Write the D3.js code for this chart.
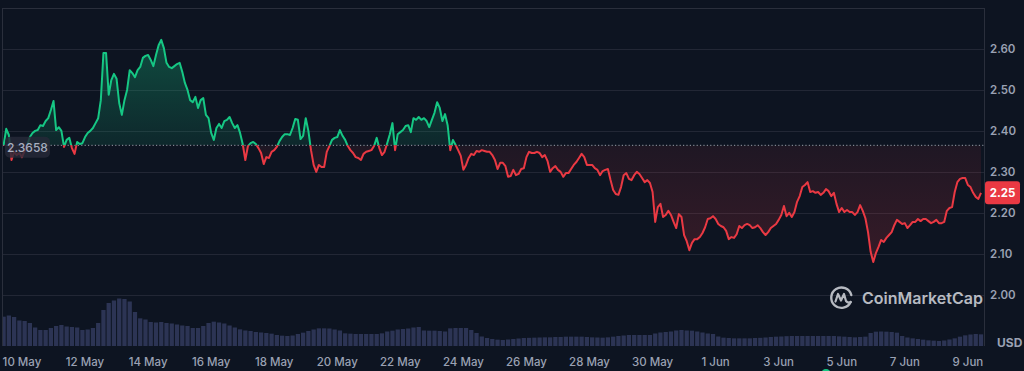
<!DOCTYPE html>
<html><head><meta charset="utf-8">
<script src="https://cdn.jsdelivr.net/npm/d3@7"></script>
<style>html,body{margin:0;padding:0;background:#0d1421;overflow:hidden}</style>
</head><body><svg id="chart" width="1024" height="371"></svg>
<script>
// ---- data ----
const startUTC = "2025-05-09T10:00:00Z";
const priceStepHours = 2;
const prices = [
2.366,2.406,2.391,2.330,2.350,2.342,2.347,2.337,2.352,2.367,
2.386,2.396,2.401,2.403,2.415,2.413,2.425,2.432,2.452,2.474,
2.403,2.410,2.401,2.362,2.379,2.384,2.359,2.345,2.374,2.369,
2.371,2.386,2.396,2.401,2.408,2.420,2.432,2.476,2.591,2.591,
2.489,2.525,2.540,2.528,2.469,2.440,2.476,2.501,2.549,2.542,
2.532,2.549,2.557,2.579,2.584,2.586,2.574,2.559,2.586,2.610,
2.623,2.603,2.567,2.557,2.554,2.559,2.564,2.567,2.545,2.518,
2.501,2.476,2.471,2.484,2.457,2.476,2.481,2.440,2.432,2.396,
2.379,2.408,2.418,2.408,2.425,2.428,2.435,2.420,2.408,2.415,
2.396,2.369,2.330,2.364,2.371,2.374,2.369,2.359,2.347,2.320,
2.337,2.335,2.350,2.354,2.362,2.376,2.386,2.393,2.393,2.391,
2.408,2.430,2.428,2.381,2.389,2.432,2.401,2.354,2.318,2.301,
2.318,2.313,2.313,2.350,2.364,2.379,2.384,2.386,2.403,2.389,
2.379,2.364,2.354,2.347,2.337,2.335,2.330,2.345,2.350,2.352,
2.354,2.364,2.384,2.359,2.342,2.350,2.371,2.393,2.420,2.354,
2.393,2.398,2.403,2.413,2.415,2.398,2.432,2.428,2.435,2.428,
2.432,2.425,2.410,2.428,2.445,2.471,2.457,2.425,2.442,2.415,
2.354,2.379,2.367,2.354,2.340,2.306,2.318,2.335,2.345,2.342,
2.352,2.350,2.354,2.352,2.350,2.350,2.342,2.330,2.308,2.323,
2.323,2.315,2.289,2.291,2.306,2.293,2.296,2.308,2.310,2.337,
2.350,2.347,2.347,2.350,2.347,2.337,2.342,2.328,2.301,2.310,
2.315,2.306,2.301,2.289,2.298,2.298,2.308,2.318,2.325,2.335,
2.345,2.337,2.318,2.318,2.318,2.310,2.306,2.293,2.303,2.306,
2.308,2.281,2.257,2.247,2.245,2.264,2.293,2.298,2.284,2.281,
2.293,2.301,2.296,2.286,2.276,2.281,2.274,2.252,2.179,2.215,
2.223,2.191,2.196,2.206,2.196,2.179,2.164,2.198,2.191,2.147,
2.132,2.110,2.128,2.137,2.137,2.142,2.152,2.166,2.186,2.188,
2.193,2.186,2.174,2.169,2.166,2.157,2.137,2.142,2.140,2.149,
2.169,2.164,2.171,2.174,2.171,2.164,2.166,2.171,2.164,2.154,
2.147,2.154,2.164,2.169,2.174,2.184,2.196,2.218,2.193,2.201,
2.191,2.203,2.228,2.242,2.264,2.269,2.276,2.252,2.254,2.250,
2.252,2.245,2.250,2.259,2.254,2.242,2.250,2.223,2.203,2.213,
2.203,2.208,2.203,2.203,2.196,2.203,2.220,2.206,2.188,2.154,
2.106,2.081,2.103,2.118,2.135,2.130,2.140,2.147,2.154,2.171,
2.184,2.179,2.174,2.176,2.164,2.171,2.179,2.179,2.186,2.181,
2.186,2.186,2.181,2.176,2.179,2.184,2.176,2.176,2.179,2.206,
2.213,2.215,2.252,2.276,2.284,2.286,2.286,2.269,2.264,2.250,
2.240,2.235,2.250
];
const volumeStepHours = 4;
const volumes = [
352,366,348,306,300,276,222,192,192,216,
240,252,234,228,222,192,198,216,276,432,
516,546,570,564,534,408,332,318,288,282,
288,276,270,258,246,240,216,216,240,276,
292,282,270,246,222,200,186,180,168,162,
156,148,132,124,120,126,144,160,180,198,
212,212,210,198,186,152,148,144,144,144,
144,144,152,174,184,198,204,210,222,228,
186,184,184,180,174,212,216,216,216,192,
156,114,96,84,76,72,78,84,90,96,
98,100,102,104,104,108,108,112,112,112,
112,108,104,102,100,104,112,120,126,132,
132,132,132,132,150,162,168,174,186,192,
186,184,174,162,150,144,114,100,96,92,
92,92,92,96,98,102,108,112,114,118,
120,120,120,120,120,120,120,120,120,116,
112,108,104,108,112,156,172,174,172,168,
160,120,102,92,84,76,68,64,60,66,
78,92,112,128,138,144,140
];
const refPrice = 2.3658;
const lastPrice = 2.25;
const yTicks = [2.00, 2.10, 2.20, 2.30, 2.40, 2.50, 2.60];
const xTickDates = ["2025-05-10","2025-05-12","2025-05-14","2025-05-16","2025-05-18","2025-05-20",
  "2025-05-22","2025-05-24","2025-05-26","2025-05-28","2025-05-30","2025-06-01","2025-06-03",
  "2025-06-05","2025-06-07","2025-06-09"];
const currencyLabel = "USD";
const brand = "CoinMarketCap";

// ---- build ----
const t0 = new Date(startUTC).getTime();
const pData = prices.map((p, i) => ({ t: new Date(t0 + i * priceStepHours * 3600e3), p }));
const vData = volumes.map((v, i) => ({ t: new Date(t0 + i * volumeStepHours * 3600e3), v }));

const L = 3, R = 984, T = 8, B = 346;
const FONT = "Inter, 'Noto Sans', sans-serif";
const GREEN = "#16c784", RED = "#ea3943", TXT = "#9aa1b3";

const svg = d3.select("#chart");
const x = d3.scaleUtc().domain([pData[0].t, pData[pData.length - 1].t]).range([3.6, 981]);
const y = d3.scaleLinear().domain([2.0, 2.6]).range([295.3, 49.3]);
const yVol = d3.scaleLinear().domain([0, 600]).range([B, B - 50]);
const yRef = y(refPrice);

svg.append("rect").attr("width", 1024).attr("height", 371).attr("fill", "#0d1421");

const defs = svg.append("defs");
defs.append("clipPath").attr("id", "cAbove").append("rect").attr("x", L).attr("y", 0).attr("width", R - L).attr("height", yRef);
defs.append("clipPath").attr("id", "cBelow").append("rect").attr("x", L).attr("y", yRef).attr("width", R - L).attr("height", B - yRef);
defs.append("clipPath").attr("id", "cPlot").append("rect").attr("x", L).attr("y", T).attr("width", R - L).attr("height", B - T);

const gG = defs.append("linearGradient").attr("id", "gGreen").attr("gradientUnits", "userSpaceOnUse")
  .attr("x1", 0).attr("x2", 0).attr("y1", y(2.62)).attr("y2", yRef);
gG.append("stop").attr("offset", 0).attr("stop-color", GREEN).attr("stop-opacity", 0.31);
gG.append("stop").attr("offset", 1).attr("stop-color", GREEN).attr("stop-opacity", 0.11);
const gR = defs.append("linearGradient").attr("id", "gRed").attr("gradientUnits", "userSpaceOnUse")
  .attr("x1", 0).attr("x2", 0).attr("y1", yRef).attr("y2", y(2.08));
gR.append("stop").attr("offset", 0).attr("stop-color", RED).attr("stop-opacity", 0.08);
gR.append("stop").attr("offset", 1).attr("stop-color", RED).attr("stop-opacity", 0.19);

// grid
const grid = svg.append("g");
grid.selectAll("line.h").data(yTicks).join("line")
  .attr("x1", L).attr("x2", R).attr("y1", d => Math.round(y(d)) + 0.5).attr("y2", d => Math.round(y(d)) + 0.5)
  .attr("stroke", "#222735").attr("stroke-width", 1);
grid.append("line").attr("x1", L).attr("x2", R).attr("y1", T + 0.5).attr("y2", T + 0.5).attr("stroke", "#2a2f3c");
grid.append("line").attr("x1", R + 0.5).attr("x2", R + 0.5).attr("y1", T).attr("y2", B).attr("stroke", "#2a2f3c");
grid.append("line").attr("x1", L - 0.5).attr("x2", L - 0.5).attr("y1", T).attr("y2", B).attr("stroke", "#2a2f3c");

// volume
const bw = (x(vData[1].t) - x(vData[0].t)) - 1;
svg.append("g").attr("clip-path", "url(#cPlot)").selectAll("rect").data(vData).join("rect")
  .attr("x", d => x(d.t) - bw / 2).attr("width", bw)
  .attr("y", d => yVol(d.v)).attr("height", d => B - yVol(d.v))
  .attr("fill", "#2c3454");

// watermark
const wm = svg.append("g").attr("opacity", 0.85);
const lg = wm.append("g").attr("transform", "translate(841.5,297.5)");
lg.append("path").attr("d", "M 9.2,4.5 A 10.2 10.2 0 1 1 9.8,-2.5").attr("fill", "none")
  .attr("stroke", "#d4d7de").attr("stroke-width", 2.4).attr("stroke-linecap", "round");
lg.append("path").attr("d", "M -6,4 L -3.5,-3.5 L -0.5,3 L 2.5,-3.5 L 4.5,3.5 Q 6.5,6 9.2,4.5")
  .attr("fill", "none").attr("stroke", "#d4d7de").attr("stroke-width", 2.2)
  .attr("stroke-linejoin", "round").attr("stroke-linecap", "round");
wm.append("text").attr("x", 862).attr("y", 303.5).text(brand)
  .attr("font-family", FONT).attr("font-size", 16).attr("font-weight", 600).attr("fill", "#d4d7de");

// areas and lines
const area = d3.area().x(d => x(d.t)).y0(yRef).y1(d => y(d.p));
const line = d3.line().x(d => x(d.t)).y(d => y(d.p));
svg.append("path").datum(pData).attr("d", area).attr("fill", "url(#gGreen)").attr("clip-path", "url(#cAbove)");
svg.append("path").datum(pData).attr("d", area).attr("fill", "url(#gRed)").attr("clip-path", "url(#cBelow)");

// reference dotted line
svg.append("line").attr("x1", L).attr("x2", R).attr("y1", yRef).attr("y2", yRef)
  .attr("stroke", "#b9bec9").attr("stroke-width", 1).attr("stroke-dasharray", "1.2,2.2").attr("opacity", 0.8);

svg.append("path").datum(pData).attr("d", line).attr("fill", "none").attr("stroke", GREEN)
  .attr("stroke-width", 2).attr("stroke-linejoin", "round").attr("clip-path", "url(#cAbove)");
svg.append("path").datum(pData).attr("d", line).attr("fill", "none").attr("stroke", RED)
  .attr("stroke-width", 2).attr("stroke-linejoin", "round").attr("clip-path", "url(#cBelow)");

// y axis labels
svg.append("g").selectAll("text").data(yTicks).join("text")
  .attr("x", 990).attr("y", d => y(d)).attr("dy", "0.36em")
  .attr("font-family", FONT).attr("font-size", 11.5).attr("font-weight", 600).attr("fill", TXT)
  .text(d => d.toFixed(2));
svg.append("text").attr("x", 997).attr("y", 343).attr("dy", "0.36em").text(currencyLabel)
  .attr("font-family", FONT).attr("font-size", 12).attr("font-weight", 700).attr("fill", TXT);

// x axis labels
const fmt = d3.utcFormat("%-d %b");
svg.append("g").selectAll("text").data(xTickDates.map(s => new Date(s + "T00:00:00Z"))).join("text")
  .attr("x", d => x(d)).attr("y", 362).attr("dy", "0.36em").attr("text-anchor", "middle")
  .attr("font-family", FONT).attr("font-size", 11.5).attr("font-weight", 500).attr("fill", TXT)
  .text(d => fmt(d));

// last price badge
const yl = y(lastPrice);
svg.append("rect").attr("x", 985).attr("y", yl - 11.5).attr("width", 35).attr("height", 23).attr("rx", 3).attr("fill", RED);
svg.append("text").attr("x", 1002.5).attr("y", yl).attr("dy", "0.36em").attr("text-anchor", "middle")
  .attr("font-family", FONT).attr("font-size", 11.5).attr("font-weight", 700).attr("fill", "#ffffff")
  .text(lastPrice.toFixed(2));

// reference badge
svg.append("rect").attr("x", 5).attr("y", yRef - 8.5).attr("width", 45).attr("height", 21).attr("rx", 5)
  .attr("fill", "#262a38").attr("opacity", 0.82);
svg.append("text").attr("x", 27.5).attr("y", yRef + 2).attr("dy", "0.36em").attr("text-anchor", "middle")
  .attr("font-family", FONT).attr("font-size", 12).attr("font-weight", 500).attr("fill", "#a7aec0")
  .text(refPrice.toFixed(4));

// event marker at bottom edge
svg.append("circle").attr("cx", x(new Date("2025-06-04T12:00:00Z"))).attr("cy", 374).attr("r", 5).attr("fill", GREEN);
</script></body></html>
